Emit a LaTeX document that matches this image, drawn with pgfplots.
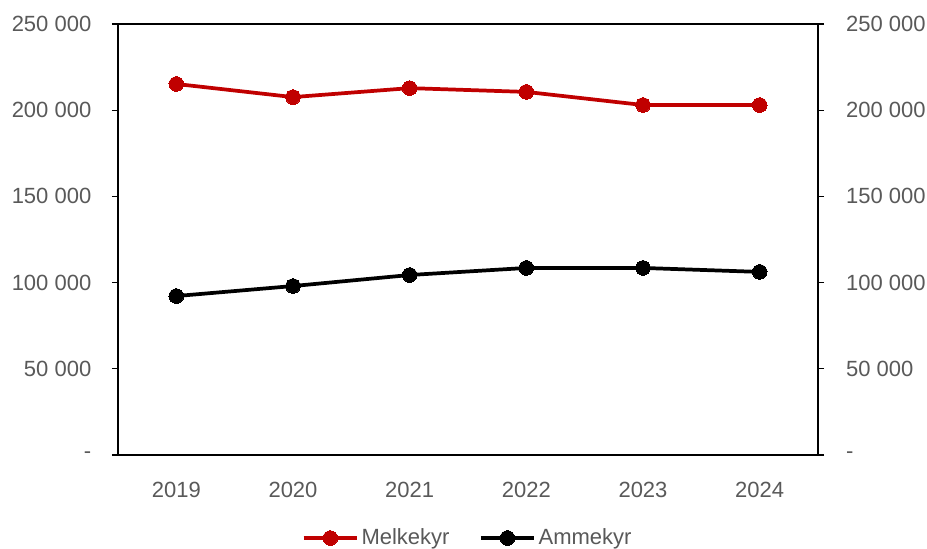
\documentclass[border=0pt]{standalone}
\usepackage{pgfplots}
\pgfplotsset{compat=1.18}
\usepackage{fontspec}
\setmainfont{Liberation Sans}
\definecolor{redline}{HTML}{C00000}
\definecolor{txt}{HTML}{595959}
\begin{document}
\begin{tikzpicture}[x=0.75pt,y=0.75pt]
\begin{axis}[
  name=main,
  scale only axis,
  width=525pt, height=323.25pt,
  xmin=-0.5, xmax=5.5,
  ymin=0, ymax=250000,
  xtick={0,1,2,3,4,5},
  xticklabels={2019,2020,2021,2022,2023,2024},
  ytick={0,50000,100000,150000,200000,250000},
  yticklabels={-,50 000,100 000,150 000,200 000,250 000},
  ytick pos=left,
  tick align=outside,
  major tick length=4.5pt,
  xtick style={draw=none},
  ytick style={black, line width=0.9pt},
  axis line style={black, line width=1.1pt},
  tick label style={font=\fontsize{16.5}{18}\selectfont, text=txt},
  yticklabel style={xshift=-12pt},
  xticklabel style={yshift=-12pt},
  scaled y ticks=false,
  legend columns=2,
  legend style={draw=none, at={(0.5,-0.1926)}, anchor=center,
    font=\fontsize{16.5}{18}\selectfont, text=txt, inner xsep=0pt,
    /tikz/every even column/.append style={column sep=20pt}},
  legend image code/.code={\draw[mark repeat=2,mark phase=2,#1] plot coordinates {(0pt,0pt)(20pt,0pt)(40pt,0pt)};},
  clip=false,
]
\addplot[redline, line width=2.8pt, mark=*, mark size=5.5pt, mark options={solid, fill=redline, draw=redline, line width=0pt}]
  coordinates {(0,215200) (1,207600) (2,212800) (3,210600) (4,203000) (5,203000)};
\addlegendentry{Melkekyr}
\addplot[black, line width=2.8pt, mark=*, mark size=5.5pt, mark options={solid, fill=black, draw=black, line width=0pt}]
  coordinates {(0,92200) (1,98000) (2,104400) (3,108500) (4,108500) (5,106200)};
\addlegendentry{Ammekyr}
\end{axis}
\begin{axis}[
  scale only axis,
  width=525pt, height=323.25pt,
  xmin=-0.5, xmax=5.5,
  ymin=0, ymax=250000,
  axis x line=none,
  axis y line*=right,
  ytick={0,50000,100000,150000,200000,250000},
  yticklabels={-,50 000,100 000,150 000,200 000,250 000},
  scaled y ticks=false,
  tick align=outside,
  major tick length=4.5pt,
  ytick style={black, line width=0.9pt},
  axis line style={black, line width=1.1pt},
  tick label style={font=\fontsize{16.5}{18}\selectfont, text=txt},
  yticklabel style={xshift=13pt},
]
\end{axis}
\pgfresetboundingbox
\path[use as bounding box] ([xshift=-88.5pt,yshift=-70.5pt]main.south west) rectangle ([xshift=81.75pt,yshift=18pt]main.north east);
\end{tikzpicture}
\end{document}
